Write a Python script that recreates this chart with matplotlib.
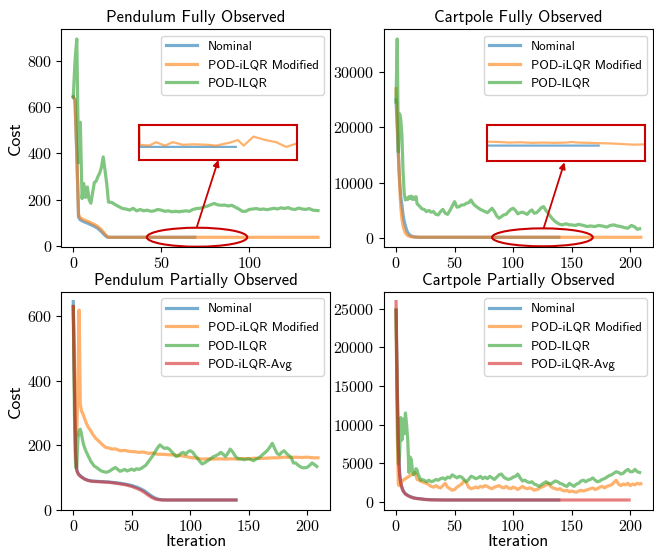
import matplotlib
matplotlib.use("Agg")
import matplotlib.pyplot as plt
from matplotlib.patches import Ellipse

plt.rcParams['font.family'] = ['cmr10', 'DejaVu Serif']
plt.rcParams['mathtext.fontset'] = 'cm'
plt.rcParams['axes.formatter.use_mathtext'] = True
plt.rcParams['axes.unicode_minus'] = False

SANS = ['cmss10', 'DejaVu Sans']

# ---------------- data ----------------
# Pendulum fully observed
pf_nom_x = [0, 1, 2, 3, 4, 6, 8, 10, 12, 14, 16, 18, 19, 20, 69]
pf_nom_y = [645, 630, 400, 125, 113, 105, 99, 92, 85, 76, 62, 46, 40, 37.6, 37.6]
pf_mod_x = [0, 1, 2, 3, 4, 6, 8, 10, 12, 14, 16, 18, 19, 20, 25, 28.5, 33, 37, 42, 48, 54, 59, 66, 70,
            73, 78, 84, 89.5, 94.5, 100, 105, 110, 115, 120, 125, 130, 135, 139]
pf_mod_y = [645, 630, 400, 135, 122, 113, 107, 100, 93, 84, 70, 52, 44, 37.65, 37.63, 37.71, 37.63, 37.71,
            37.65, 37.66, 37.65, 37.63, 37.70, 37.76, 37.63, 37.84, 37.76, 37.71, 37.60, 37.68, 37.72,
            37.66, 37.72, 37.68, 37.70, 37.66, 37.70, 37.68]
pf_pod_x = [0, 1, 2, 3, 4, 5, 6, 7, 8, 9, 10, 11, 12, 13, 14, 15, 16, 17, 18, 19, 20, 22, 24, 26, 28, 30,
            32, 34, 36, 38, 40, 42, 44, 46, 48, 50, 52, 54, 56, 58, 60, 62, 64, 66, 68, 70, 72, 74, 76,
            78, 80, 82, 84, 86, 88, 90, 92, 94, 96, 98, 100, 102, 104, 106, 108, 110, 112, 114, 116,
            118, 120, 122, 124, 126, 128, 130, 132, 134, 136, 139]
pf_pod_y = [645, 800, 895, 360, 535, 205, 270, 210, 255, 200, 185, 230, 275, 280, 300, 315, 340, 385, 330,
            270, 190, 188, 178, 170, 162, 160, 155, 163, 152, 158, 152, 155, 150, 152, 158, 155, 150,
            152, 148, 150, 148, 150, 152, 150, 158, 162, 163, 168, 172, 178, 184, 178, 176, 177, 173,
            176, 168, 160, 150, 150, 158, 160, 162, 158, 160, 157, 160, 163, 160, 165, 162, 166, 160,
            158, 164, 160, 158, 162, 155, 153]

# Cartpole fully observed
cf_nom_x = [0, 1, 2, 3, 4, 5, 6, 7, 8, 9, 10, 12, 14, 16, 20, 139]
cf_nom_y = [25000, 20000, 15000, 10500, 7500, 6000, 4200, 3000, 2200, 1500, 1000, 500, 300, 200, 153, 153]
cf_mod_x = [0, 1, 2, 3, 4, 5, 6, 7, 8, 10, 12, 14, 16, 20, 30, 40, 50, 60, 70, 80, 90, 100, 110, 115,
            120, 130, 140, 150, 160, 170, 180, 190, 200, 209]
cf_mod_y = [27000, 22000, 15300, 10000, 5700, 3500, 2200, 1500, 900, 450, 300, 230, 200, 175, 168, 166,
            165, 163, 164, 162, 163, 162, 163, 165, 163, 162, 161, 160, 158, 156, 157, 157, 156, 157]
cf_pod_x = [0, 1, 2, 3, 4, 5, 6, 7, 8, 9, 10, 11, 12, 13, 14, 15, 16, 17, 18, 19, 20, 22, 24, 26, 28, 30,
            32, 34, 36, 38, 40, 42, 44, 46, 48, 50, 52, 54, 56, 58, 60, 62, 64, 66, 68, 70, 72, 74, 76,
            78, 80, 82, 84, 86, 88, 90, 92, 94, 96, 98, 100, 102, 104, 106, 108, 110, 112, 114, 116,
            118, 120, 122, 124, 126, 128, 130, 132, 134, 136, 138, 140, 142, 145, 148, 150, 153, 156,
            160, 163, 166, 170, 173, 176, 180, 183, 186, 189, 192, 195, 198, 201, 204, 206, 208]
cf_pod_y = [24600, 36000, 15600, 22500, 21500, 18600, 12000, 8000, 6900, 7200, 7000, 7500, 7200, 7600,
            7000, 7400, 7000, 7500, 6200, 6000, 5800, 5300, 5200, 4800, 5000, 4700, 4800, 4300, 4200,
            4800, 5200, 4500, 4300, 5000, 5800, 6600, 5600, 5700, 6000, 6000, 6300, 6400, 6900, 6200,
            5800, 5500, 5200, 5000, 4800, 4600, 5000, 5400, 4800, 4000, 3600, 3900, 4200, 4300, 4800,
            5200, 5400, 5000, 4400, 4600, 4700, 4500, 4300, 4800, 5100, 4500, 4600, 5000, 5500, 5700,
            5000, 4500, 3900, 3400, 3000, 2700, 2500, 2400, 2600, 2400, 2400, 2300, 2500, 2300, 2100,
            2200, 2100, 2300, 2200, 2000, 2300, 2400, 2200, 2100, 1900, 1800, 2300, 2000, 1600, 1700]

# Pendulum partially observed
pp_nom_x = [0, 1, 2, 3, 4, 5, 7, 10, 13, 16, 20, 25, 30, 35, 40, 45, 50, 55, 58, 61, 64, 67, 70, 73,
            76, 80, 90, 139]
pp_nom_y = [646, 400, 180, 125, 114, 109, 102, 95, 91, 89, 88, 87, 86, 84, 82, 79, 75, 69, 64, 58, 50,
            42, 36, 32, 30.5, 30, 30, 30]
pp_mod_x = [0, 1, 2, 3, 4, 5, 6, 7, 8, 9, 10, 11, 12, 13, 14, 15, 16, 17, 18, 19, 20, 22, 24, 26, 28,
            30, 33, 36, 40, 44, 48, 52, 56, 60, 64, 68, 72, 76, 80, 85, 90, 95, 100, 105, 110, 115,
            120, 125, 130, 135, 140, 145, 150, 155, 160, 165, 170, 175, 180, 185, 190, 195, 200, 205,
            209]
pp_mod_y = [630, 450, 250, 230, 400, 620, 330, 306, 300, 290, 280, 270, 262, 255, 250, 245, 238, 232,
            228, 222, 219, 212, 205, 198, 193, 192, 188, 189, 183, 184, 181, 180, 178, 179, 175, 176,
            172, 172, 171, 170, 168, 166, 162, 160, 157, 158, 157, 158, 157, 158, 157, 159, 158, 160,
            159, 160, 161, 161, 163, 162, 163, 162, 163, 161, 161]
pp_pod_x = [0, 1, 2, 3, 4, 5, 6, 7, 8, 9, 10, 11, 12, 13, 14, 15, 16, 17, 18, 20, 22, 24, 26, 28, 30,
            32, 34, 36, 38, 40, 42, 44, 46, 48, 50, 52, 54, 56, 58, 60, 62, 64, 66, 68, 70, 72, 74,
            76, 78, 80, 82, 84, 86, 88, 90, 92, 94, 96, 98, 100, 102, 104, 106, 108, 110, 112, 114,
            116, 118, 120, 122, 124, 126, 128, 130, 132, 134, 136, 138, 140, 142, 144, 146, 148, 150,
            152, 154, 156, 158, 160, 162, 164, 166, 168, 170, 172, 174, 176, 178, 180, 182, 184, 186,
            188, 190, 192, 194, 196, 198, 200, 202, 204, 206, 208]
pp_pod_y = [631, 300, 131, 135, 220, 245, 250, 235, 215, 200, 190, 180, 173, 165, 158, 150, 145, 140,
            135, 131, 125, 120, 118, 116, 118, 122, 127, 131, 125, 119, 122, 125, 120, 123, 126, 122,
            127, 125, 128, 133, 138, 148, 158, 168, 180, 192, 201, 195, 190, 192, 188, 180, 172, 165,
            168, 175, 178, 172, 180, 183, 178, 168, 160, 150, 142, 145, 150, 155, 160, 165, 168, 172,
            178, 172, 165, 175, 188, 180, 168, 160, 158, 157, 155, 157, 158, 155, 152, 157, 160, 165,
            172, 178, 185, 195, 206, 190, 175, 170, 178, 183, 175, 168, 163, 145, 145, 138, 133, 130,
            130, 132, 138, 145, 140, 134]
pp_avg_x = [0, 1, 2, 3, 4, 5, 7, 10, 13, 16, 20, 25, 30, 35, 40, 45, 50, 55, 58, 61, 64, 67, 70, 73,
            76, 80, 90, 139]
pp_avg_y = [631, 380, 170, 121, 112, 107, 101, 94, 90, 88, 87, 86, 85, 83, 80, 77, 72, 65, 60, 53, 45,
            38, 33, 31, 30, 30, 30, 30]

# Cartpole partially observed
cp_nom_x = [0, 1, 2, 3, 4, 5, 6, 7, 8, 10, 12, 15, 18, 21, 25, 30, 40, 139]
cp_nom_y = [24800, 15000, 7500, 3800, 2500, 1900, 1500, 1250, 1050, 850, 700, 520, 440, 390, 310, 270,
            240, 240]
cp_mod_x = [0, 1, 2, 3, 4, 5, 6, 8, 10, 12, 14, 16, 17, 18, 20, 22, 24, 26, 28, 30, 32, 34, 36, 38, 40,
            42, 44, 46, 48, 50, 52, 54, 56, 58, 60, 62, 64, 66, 68, 70, 72, 74, 76, 78, 80, 82, 84, 86,
            88, 90, 92, 94, 96, 98, 100, 102, 104, 106, 108, 110, 112, 114, 116, 118, 120, 122, 124,
            126, 128, 130, 132, 134, 136, 138, 140, 142, 144, 146, 148, 150, 152, 154, 156, 158, 160,
            162, 164, 166, 168, 170, 172, 174, 176, 178, 180, 182, 184, 186, 188, 190, 192, 194, 196,
            198, 200, 202, 204, 206, 208, 209]
cp_mod_y = [24800, 9000, 2200, 2100, 2400, 2600, 2800, 3000, 3200, 3400, 3600, 3800, 3500, 2900, 2800,
            2600, 2500, 2400, 2200, 2000, 1900, 2100, 1900, 1800, 2100, 2400, 1900, 1700, 1500, 1600,
            1900, 2100, 2300, 2700, 2500, 1900, 1700, 1800, 1900, 1800, 2000, 1900, 2100, 2000, 1800,
            1700, 1900, 2000, 2100, 1900, 1800, 2000, 1800, 1700, 1900, 1800, 1600, 1800, 2000, 1800,
            1700, 1800, 1700, 1500, 1600, 1700, 1900, 2000, 2200, 2400, 2000, 1800, 1700, 1600, 1700,
            1500, 1400, 1500, 1300, 1400, 1300, 1250, 1400, 1500, 1400, 1500, 1600, 1700, 1800, 1600,
            1700, 1900, 2000, 1800, 2000, 2100, 2200, 2500, 2800, 2300, 2100, 2300, 2200, 2400, 2100,
            2300, 2200, 2400, 2300, 2350]
cp_pod_x = [0, 1, 2, 3, 4, 5, 6, 7, 8, 9, 10, 11, 12, 13, 14, 15, 16, 17, 18, 19, 20, 21, 22, 24, 26,
            28, 30, 32, 34, 36, 38, 40, 42, 44, 46, 48, 50, 52, 54, 56, 58, 60, 62, 64, 66, 68, 70, 72,
            74, 76, 78, 80, 82, 84, 86, 88, 90, 92, 94, 96, 98, 100, 102, 104, 106, 108, 110, 112, 114,
            116, 118, 120, 122, 124, 126, 128, 130, 132, 134, 136, 138, 140, 142, 144, 146, 148, 150,
            152, 154, 156, 158, 160, 162, 164, 166, 168, 170, 172, 174, 176, 178, 180, 182, 184, 186,
            188, 190, 192, 194, 196, 198, 200, 202, 204, 206, 208]
cp_pod_y = [24800, 12000, 4900, 6000, 10900, 8000, 10700, 8800, 11500, 10000, 8000, 3800, 5800, 5500,
            4000, 3500, 3700, 4300, 4100, 3500, 3200, 2800, 2900, 2800, 2600, 2800, 2600, 2700, 2900,
            2800, 3000, 3100, 2900, 3200, 3100, 3500, 3300, 3100, 3300, 3200, 2900, 2600, 2900, 3300,
            3200, 3000, 3100, 3300, 3000, 3200, 3000, 3300, 3100, 2900, 3200, 3500, 3600, 3200, 3000,
            2900, 3000, 3200, 3300, 3600, 3100, 2700, 2800, 2600, 2500, 2600, 2300, 2200, 2000, 2200,
            2400, 2600, 2400, 2300, 2500, 2700, 2600, 2400, 2300, 2100, 2000, 2400, 2200, 2000, 2300,
            2400, 2700, 2800, 2600, 2800, 2900, 3100, 2800, 2600, 2700, 2900, 3000, 3200, 3400, 3500,
            3700, 3900, 3800, 3600, 3700, 4000, 4200, 3900, 3900, 4200, 3900, 3800]
cp_avg_x = [0, 1, 2, 3, 4, 5, 6, 7, 8, 10, 12, 15, 18, 21, 25, 30, 40, 199]
cp_avg_y = [25900, 15000, 7000, 3500, 2400, 1800, 1400, 1200, 1000, 800, 650, 500, 420, 380, 300, 260,
            240, 240]

labels = ['Nominal', 'POD-iLQR Modified', 'POD-ILQR', 'POD-iLQR-Avg']
colors = ['tab:blue', 'tab:orange', 'tab:green', 'tab:red']
RED = '#c80000'
LW = 2.3
ALPHA = 0.6

fig, axes = plt.subplots(2, 2, figsize=(6.54, 5.48), dpi=100)
fig.subplots_adjust(left=0.0933, right=0.9985, top=0.947, bottom=0.0695, wspace=0.199, hspace=0.204)

panels = [
    (axes[0, 0], 'Pendulum Fully Observed',
     [(pf_nom_x, pf_nom_y), (pf_mod_x, pf_mod_y), (pf_pod_x, pf_pod_y)]),
    (axes[0, 1], 'Cartpole Fully Observed',
     [(cf_nom_x, cf_nom_y), (cf_mod_x, cf_mod_y), (cf_pod_x, cf_pod_y)]),
    (axes[1, 0], 'Pendulum Partially Observed',
     [(pp_nom_x, pp_nom_y), (pp_mod_x, pp_mod_y), (pp_pod_x, pp_pod_y), (pp_avg_x, pp_avg_y)]),
    (axes[1, 1], 'Cartpole Partially Observed',
     [(cp_nom_x, cp_nom_y), (cp_mod_x, cp_mod_y), (cp_pod_x, cp_pod_y), (cp_avg_x, cp_avg_y)]),
]

for ax, title, series in panels:
    for i, (xs, ys) in enumerate(series):
        ax.plot(xs, ys, color=colors[i], lw=LW, alpha=ALPHA, label=labels[i])
    ax.set_title(title, fontsize=12, family=SANS, pad=5)
    ax.tick_params(labelsize=11.5, pad=3)
    leg = ax.legend(loc='upper right', prop={'family': SANS, 'size': 9.3}, handlelength=2.4)

axes[0, 0].set_ylabel('Cost', fontsize=13, family=SANS, labelpad=3)
axes[1, 0].set_ylabel('Cost', fontsize=13, family=SANS, labelpad=3)
axes[1, 0].set_xlabel('Iteration', fontsize=12.5, family=SANS, labelpad=0)
axes[1, 1].set_xlabel('Iteration', fontsize=12.5, family=SANS, labelpad=0)
for ax in axes[0]:
    ax.set_xticks([0, 50, 100] if ax is axes[0, 0] else [0, 50, 100, 150, 200])
axes[1, 0].set_yticks([0, 200, 400, 600])

# zoom insets
def add_zoom(ax, rect, series, xlim, ylim, ell_c, ell_w, ell_h, arr_from, arr_to):
    ins = ax.inset_axes(rect)
    for i, (xs, ys) in enumerate(series):
        ins.plot(xs, ys, color=colors[i], lw=1.6, alpha=ALPHA)
    ins.set_xlim(xlim)
    ins.set_ylim(ylim)
    ins.set_xticks([])
    ins.set_yticks([])
    for s in ins.spines.values():
        s.set_color(RED)
        s.set_linewidth(1.5)
    ax.add_patch(Ellipse(ell_c, ell_w, ell_h, fill=False, edgecolor=RED, lw=1.5, zorder=5))
    ax.annotate('', xy=arr_to, xytext=arr_from,
                arrowprops=dict(arrowstyle='-|>', color=RED, lw=1.3, mutation_scale=9,
                                shrinkA=0, shrinkB=0), zorder=5)

add_zoom(axes[0, 0], [0.291, 0.401, 0.585, 0.157],
         [(pf_nom_x, pf_nom_y), (pf_mod_x, pf_mod_y)], (20, 100), (37.3, 38.1),
         (70.3, 38), 57, 82, (70.1, 80), (82.4, 372))
add_zoom(axes[0, 1], [0.383, 0.393, 0.587, 0.165],
         [(cf_nom_x, cf_nom_y), (cf_mod_x, cf_mod_y)], (40, 180), (100, 220),
         (125, 150), 86, 3240, (126, 1770), (143.8, 13700))

fig.savefig('out.png', dpi=100)
